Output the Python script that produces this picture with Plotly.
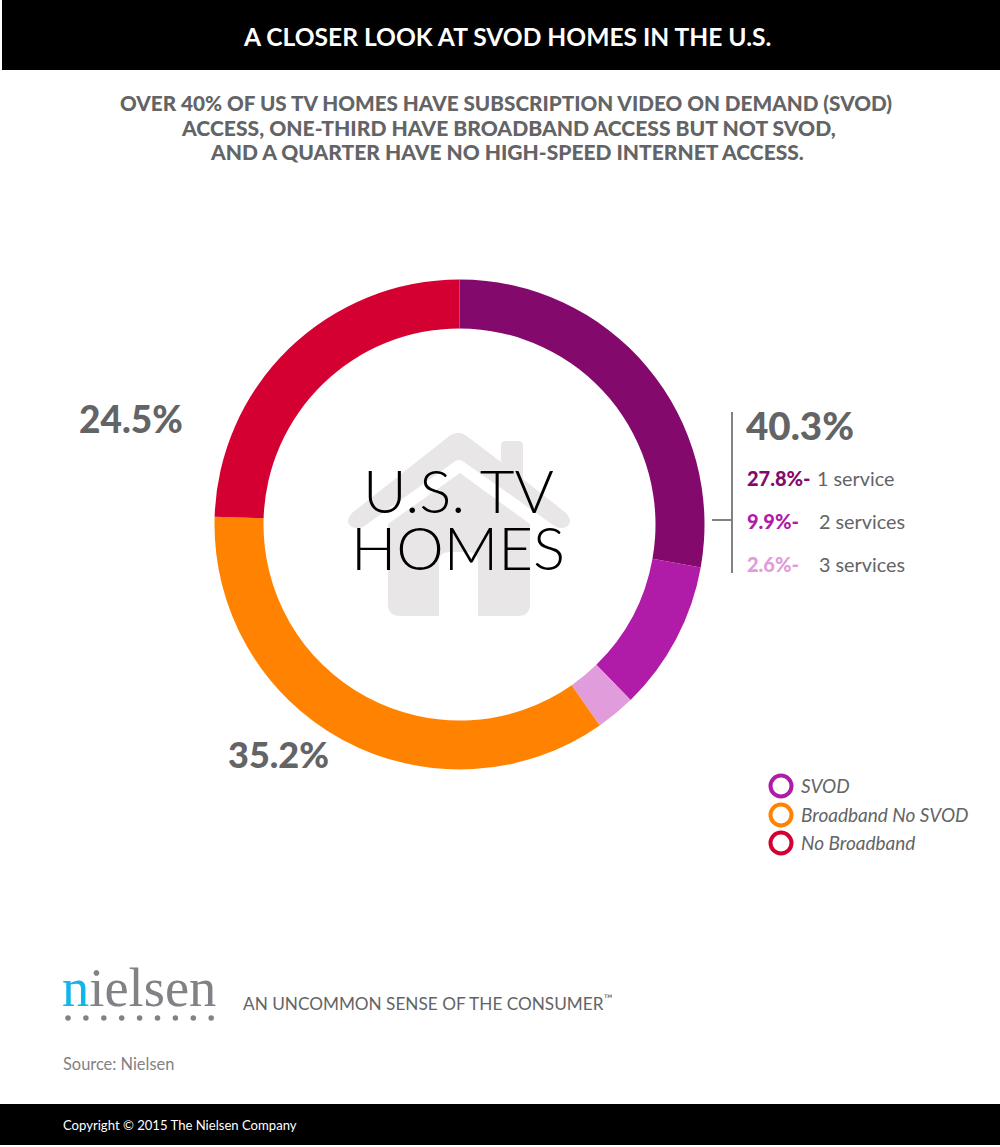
import plotly.graph_objects as go

segments = ["SVOD 1 service", "SVOD 2 services", "SVOD 3 services", "Broadband No SVOD", "No Broadband"]
shares = [27.8, 9.9, 2.6, 35.2, 24.5]
colors = ["#830a6c", "#b01ba8", "#e19cdb", "#ff8300", "#d50032"]
legend_labels = ["SVOD", "Broadband No SVOD", "No Broadband"]
legend_colors = ["#b01ba8", "#ff8300", "#d50032"]
legend_rows = [786, 815, 843]
W, H = 1000, 1147
GREY = "#636466"
FONT = "Lato"

fig = go.Figure()
cx, cy, r = 459.5, 524.5, 245
fig.add_trace(go.Pie(labels=segments, values=shares, sort=False, direction="clockwise", rotation=0,
                     hole=0.8, textinfo="none", showlegend=False,
                     marker=dict(colors=colors, line=dict(width=0)),
                     domain=dict(x=[(cx - r) / W, (cx + r) / W], y=[1 - (cy + r) / H, 1 - (cy - r) / H])))
fig.add_trace(go.Scatter(x=[781] * 3, y=legend_rows, mode="markers", showlegend=False,
                         marker=dict(size=21, color="white", line=dict(width=4, color=legend_colors)),
                         hoverinfo="skip"))
fig.add_trace(go.Scatter(x=[68 + 17.9 * i for i in range(9)], y=[1018] * 9, mode="markers", showlegend=False,
                         marker=dict(size=5.5, color="#808285"), hoverinfo="skip"))

shapes = []
def rect(x0, y0, x1, y1, c):
    shapes.append(dict(type="rect", x0=x0, y0=y0, x1=x1, y1=y1, fillcolor=c, line_width=0, layer="below"))
rect(2, 0, 1000, 70, "black")
rect(0, 1104, 1000, 1145, "black")
HOUSE = "#e8e6e6"
roof = ("M 448 437 Q 458 429 468 437 L 501 462 L 501 446 Q 501 441 506 441 L 518 441 Q 523 441 523 446 "
        "L 523 479 L 566 513 Q 574 522 566 527 Q 562 529 556 527 L 464 462 Q 459 458 454 462 "
        "L 363 527 Q 357 529 352 527 Q 344 522 352 513 Z")
body = ("M 460 473 L 530 524 L 530 604 Q 530 616 518 616 L 478 616 L 478 562 Q 478 552 468 552 "
        "L 449 552 Q 439 552 439 562 L 439 616 L 400 616 Q 388 616 388 604 L 388 524 Z")
for p in (roof, body):
    shapes.append(dict(type="path", path=p, fillcolor=HOUSE, line_width=0, layer="below"))
shapes.append(dict(type="line", x0=732, x1=732, y0=412, y1=573, line=dict(color="#808285", width=2)))
shapes.append(dict(type="line", x0=712, x1=732, y0=520, y1=520, line=dict(color="#808285", width=2)))

anns = []
def t(x, y, s, size, color=GREY, anchor="center", weight=None, family=FONT):
    f = dict(family=family, size=size, color=color)
    if weight:
        f["weight"] = weight
    anns.append(dict(x=x, y=y, text=s, showarrow=False, xanchor=anchor, yanchor="middle", font=f, align=anchor))

t(507, 36.5, "A CLOSER LOOK AT SVOD HOMES IN THE U.S.", 24.6, "white", weight=700)
t(506, 102.5, "OVER 40% OF US TV HOMES HAVE SUBSCRIPTION VIDEO ON DEMAND (SVOD)", 20.7, weight=900)
t(508, 127.5, "ACCESS, ONE-THIRD HAVE BROADBAND ACCESS BUT NOT SVOD,", 21.1, weight=900)
t(507, 151.5, "AND A QUARTER HAVE NO HIGH-SPEED INTERNET ACCESS.", 21, weight=900)
t(458, 490, "U.S. TV", 60, "black", weight=300)
t(458, 547, "HOMES", 60, "black", weight=300)
t(131, 418, "24.5%", 37, weight=900)
t(278.5, 754, "35.2%", 36, weight=900)
t(744, 425, "40.3%", 38.5, anchor="left", weight=900)
service_rows = [(478, "27.8%-", 815, "1 service", colors[0]),
                (521, "9.9%-", 817, "2 services", colors[1]),
                (564, "2.6%-", 817, "3 services", colors[2])]
for y, pct, x2, rest, c in service_rows:
    t(745, y, pct, 20, c, anchor="left", weight=900)
    t(x2, y, rest, 19.8, anchor="left")
for y, s in zip(legend_rows, legend_labels):
    t(799, y - 1, "<i>%s</i>" % s, 19, anchor="left")
t(60, 987, "<span style='color:#12b5ea'>n</span>ielsen", 54.5, "#808285", anchor="left", family="Liberation Serif")
t(241, 1002.5, "AN UNCOMMON SENSE OF THE CONSUMER<sup>™</sup>", 17.2, anchor="left")
t(61, 1063.5, "Source: Nielsen", 16.4, "#808285", anchor="left")
t(61, 1125, "Copyright © 2015 The Nielsen Company", 13.1, "white", anchor="left")

fig.update_layout(width=W, height=H, margin=dict(l=0, r=0, t=0, b=0), paper_bgcolor="white", plot_bgcolor="white",
                  xaxis=dict(range=[0, W], visible=False, fixedrange=True, domain=[0, 1]),
                  yaxis=dict(range=[H, 0], visible=False, fixedrange=True, domain=[0, 1]),
                  shapes=shapes, annotations=anns, hovermode=False)
fig.write_html("out.html", config=dict(displayModeBar=False),
               post_script="document.body.style.margin='0';")
